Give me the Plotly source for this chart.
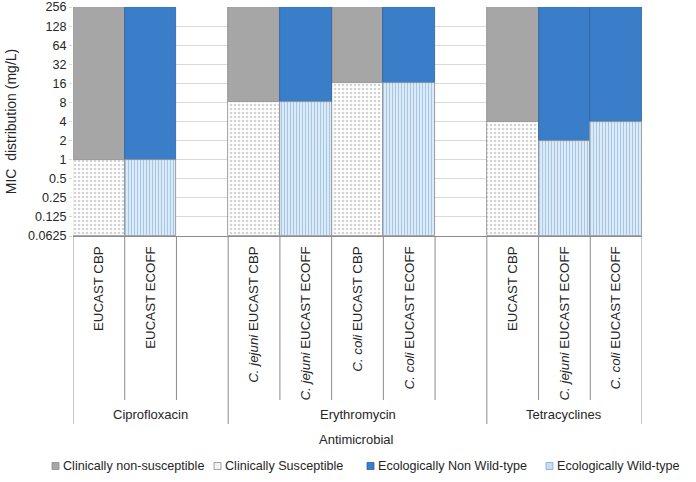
import plotly.graph_objects as go

# ---- data ----
groups = ["Ciprofloxacin", "Erythromycin", "Tetracyclines"]
group_sizes = [3, 5, 3]  # slots per group (including blank spacer slots)
categories = ["c0", "c1", "c2", "c3", "c4", "c5", "c6", "c7", "c8", "c9", "c10"]
tick_labels = [
    "EUCAST CBP", "EUCAST ECOFF", "",
    "<i>C. jejuni</i> EUCAST CBP", "<i>C. jejuni</i> EUCAST ECOFF",
    "<i>C. coli</i> EUCAST CBP", "<i>C. coli</i> EUCAST ECOFF", "",
    "EUCAST CBP", "<i>C. jejuni</i> EUCAST ECOFF", "<i>C. coli</i> EUCAST ECOFF",
]
kinds = ["CBP", "ECOFF", None, "CBP", "ECOFF", "CBP", "ECOFF", None, "CBP", "ECOFF", "ECOFF"]
breakpoints = [1, 1, None, 8, 8, 16, 16, None, 4, 2, 4]
y_ticks = [0.0625, 0.125, 0.25, 0.5, 1, 2, 4, 8, 16, 32, 64, 128, 256]
y_tick_text = ["0.0625", "0.125", "0.25", "0.5", "1", "2", "4", "8", "16", "32", "64", "128", "256"]
y_min, y_max = 0.0625, 256
series_names = ["Clinically non-susceptible", "Clinically Susceptible",
                "Ecologically Non Wild-type", "Ecologically Wild-type"]

GRAY = "#A6A6A6"
BLUE = "#3A7DC8"
FONT = "Liberation Sans, Arial, sans-serif"
TXT = "#262626"

W, H = 696, 482
ML, MR, MT, MB = 73, 54, 7, 246
PW, PH = W - ML - MR, H - MT - MB

def px_x(px):
    return (px - ML) / PW

def px_y(py):
    return (H - MB - py) / PH

def pick(kind):
    xs, bps = [], []
    for c, k, b in zip(categories, kinds, breakpoints):
        if k == kind:
            xs.append(c)
            bps.append(b)
    return xs, bps

fig = go.Figure()
cx, cb = pick("CBP")
ex, eb = pick("ECOFF")

sus_pattern = dict(shape=".", fgcolor="#A8A8A8", bgcolor="white", size=4, solidity=0.35)
wt_pattern = dict(shape="|", fgcolor="#5B9BD5", bgcolor="#EEF4FB", size=3, solidity=0.5)

fig.add_trace(go.Bar(
    name=series_names[0], x=cx, base=cb, y=[y_max - b for b in cb],
    marker=dict(color=GRAY, line=dict(color="#8C8C8C", width=0.8)),
))
fig.add_trace(go.Bar(
    name=series_names[1], x=cx, base=[y_min] * len(cb), y=[b - y_min for b in cb],
    marker=dict(color="white", line=dict(color="#8C8C8C", width=0.8), pattern=sus_pattern),
))
fig.add_trace(go.Bar(
    name=series_names[2], x=ex, base=eb, y=[y_max - b for b in eb],
    marker=dict(color=BLUE, line=dict(color="#2B62A0", width=0.8)),
))
fig.add_trace(go.Bar(
    name=series_names[3], x=ex, base=[y_min] * len(eb), y=[b - y_min for b in eb],
    marker=dict(color="white", line=dict(color="#8C8C8C", width=0.8), pattern=wt_pattern),
))

# separators and group labels below the axis
shapes = []
annotations = []
y_short, y_long = px_y(400), px_y(424)
pos = -0.5
shapes.append(dict(type="line", xref="x", yref="paper", x0=pos, x1=pos, y0=0, y1=y_long,
                   line=dict(color="#8C8C8C", width=1)))
for g, n in zip(groups, group_sizes):
    start = pos
    for i in range(n):
        pos += 1
        last = (i == n - 1)
        shapes.append(dict(type="line", xref="x", yref="paper", x0=pos, x1=pos, y0=0,
                           y1=y_long if last else y_short,
                           line=dict(color="#8C8C8C", width=1)))
    annotations.append(dict(text=g, xref="x", yref="paper", x=(start + pos) / 2, y=px_y(414),
                            xanchor="center", yanchor="middle",
                            showarrow=False, font=dict(size=13, color=TXT, family=FONT)))
annotations.append(dict(text="Antimicrobial", xref="paper", yref="paper", x=px_x(356), y=px_y(440),
                        xanchor="center", yanchor="middle",
                        showarrow=False, font=dict(size=13, color=TXT, family=FONT)))

# legend drawn as small squares + text (single row, tight spacing as in the reference)
legend_sym_px = [52, 214, 367, 546]
legend_fill = [GRAY, "#F4F4F4", BLUE, "#C9DDF1"]
legend_line = ["#8C8C8C", "#8C8C8C", "#2B62A0", "#7FA8D6"]
ly = 466
for name, sx, fc, lc in zip(series_names, legend_sym_px, legend_fill, legend_line):
    shapes.append(dict(type="rect", xref="paper", yref="paper",
                       x0=px_x(sx), x1=px_x(sx + 7), y0=px_y(ly + 3.5), y1=px_y(ly - 3.5),
                       fillcolor=fc, line=dict(color=lc, width=0.8)))
    annotations.append(dict(text=name, xref="paper", yref="paper", x=px_x(sx + 8.5), y=px_y(ly),
                            xanchor="left", yanchor="middle", showarrow=False,
                            font=dict(size=12.6, color=TXT, family=FONT)))

fig.update_layout(
    width=W, height=H,
    margin=dict(l=ML, r=MR, t=MT, b=MB, autoexpand=False),
    paper_bgcolor="white", plot_bgcolor="white",
    barmode="overlay", bargap=0,
    font=dict(family=FONT, size=13, color=TXT),
    shapes=shapes, annotations=annotations,
    showlegend=False,
)
fig.update_xaxes(
    type="category", categoryorder="array", categoryarray=categories,
    tickmode="array", tickvals=categories, ticktext=tick_labels, tickangle=-90,
    showline=True, linecolor="#8C8C8C", linewidth=1, ticks="", showgrid=False,
    range=[-0.5, len(categories) - 0.5], tickfont=dict(size=13.3, color=TXT),
    ticklabelstandoff=4, automargin=False,
)
fig.update_yaxes(
    type="log", range=[-1.20412, 2.40834],
    tickmode="array", tickvals=y_ticks, ticktext=y_tick_text,
    showgrid=True, gridcolor="#D9D9D9", gridwidth=1,
    ticks="outside", ticklen=3, tickcolor="#D9D9D9",
    showline=False, zeroline=False,
    title=dict(text="MIC  distribution (mg/L)", font=dict(size=14, color=TXT), standoff=8),
    tickfont=dict(size=12.6, color=TXT), automargin=False,
)

fig.write_html("out.html", config={"displayModeBar": False},
               post_script="document.body.style.margin='0';")
